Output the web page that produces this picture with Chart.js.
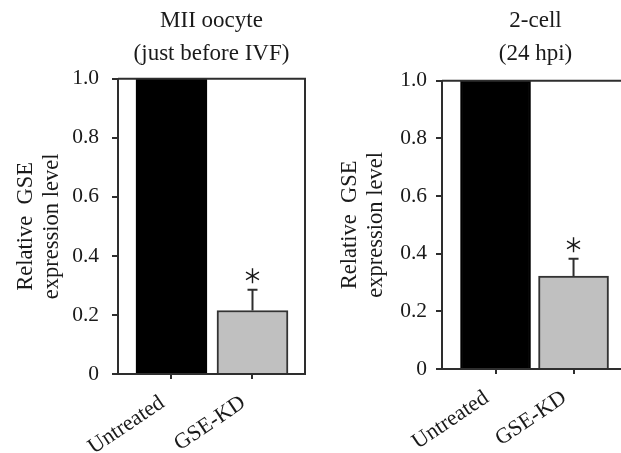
<!DOCTYPE html>
<html>
<head>
<meta charset="utf-8">
<script src="https://cdn.jsdelivr.net/npm/chart.js@4"></script>
<style>
html, body { margin: 0; padding: 0; background: #fff; overflow: hidden; width: 621px; height: 453px; }
#left { position: absolute; left: 0; top: 0; }
#right { position: absolute; left: 320px; top: 0; }
</style>
</head>
<body>
<canvas id="left" width="315" height="453"></canvas>
<canvas id="right" width="320" height="453"></canvas>
<script>
// DATA
const categories = ['Untreated', 'GSE-KD'];
const yTicks = [0, 0.2, 0.4, 0.6, 0.8, 1.0];
const yTickLabels = ['0', '0.2', '0.4', '0.6', '0.8', '1.0'];
const yTitle = ['Relative  GSE', 'expression level'];

const miiTitle = ['MII oocyte', '(just before IVF)'];
const miiMeans = [1.0, 0.215];
const miiErrors = [0, 0.07];
const miiStars = [false, true];

const cellTitle = ['2-cell', '(24 hpi)'];
const cellMeans = [1.0, 0.322];
const cellErrors = [0, 0.06];
const cellStars = [false, true];

const serif = "'Liberation Serif', 'Times New Roman', serif";
const ink = '#1a1a1a';
const lineCol = '#2e2e2e';

// MAKING THE CHARTS

function panel(id, title, means, errors, stars, lay) {
    const ctx = document.getElementById(id).getContext('2d');
    const points = means.map((m, i) => ({x: i + 1, y: m}));

    // frame, error bars and asterisks
    const extras = {
        id: 'extras',
        afterDatasetsDraw(chart) {
            const c = chart.ctx;
            const a = chart.chartArea;
            const ys = chart.scales.y;
            const bars = chart.getDatasetMeta(0).data;
            c.save();
            c.strokeStyle = lineCol;
            c.lineWidth = 2;
            c.beginPath();
            c.moveTo(a.left, a.top);
            c.lineTo(a.right, a.top);
            c.lineTo(a.right, a.bottom);
            c.stroke();
            bars.forEach((bar, i) => {
                if (!errors[i]) return;
                const y0 = ys.getPixelForValue(means[i]);
                const y1 = ys.getPixelForValue(means[i] + errors[i]);
                c.lineWidth = 2;
                c.beginPath();
                c.moveTo(bar.x, y0);
                c.lineTo(bar.x, y1);
                c.moveTo(bar.x - 5, y1);
                c.lineTo(bar.x + 5, y1);
                c.stroke();
                if (stars[i]) {
                    const cy = y1 - 14;
                    const r = 7.5;
                    c.lineWidth = 1.4;
                    c.strokeStyle = ink;
                    c.beginPath();
                    for (let k = 0; k < 3; k++) {
                        const ang = Math.PI / 2 + k * Math.PI / 3;
                        c.moveTo(bar.x + r * Math.cos(ang), cy + r * Math.sin(ang));
                        c.lineTo(bar.x - r * Math.cos(ang), cy - r * Math.sin(ang));
                    }
                    c.stroke();
                    c.strokeStyle = lineCol;
                }
            });
            c.restore();
        }
    };

    return new Chart(ctx, {
        type: 'bar',
        data: {
            datasets: [{
                data: points,
                backgroundColor: ['#000000', '#c0c0c0'],
                borderColor: ['#000000', '#333333'],
                borderWidth: 2,
                barThickness: lay.barW,
            }]
        },
        options: {
            responsive: false,
            animation: false,
            layout: {padding: {left: 0, right: lay.padRight, top: 0, bottom: 0}},
            plugins: {
                legend: {display: false},
                tooltip: {enabled: false},
                title: {
                    display: true,
                    text: title,
                    fullSize: false,
                    color: ink,
                    font: {family: serif, size: 23, weight: 'normal', lineHeight: 1.45},
                    padding: {top: lay.titleTop, bottom: lay.titleBottom},
                },
            },
            scales: {
                x: {
                    type: 'linear',
                    offset: false,
                    min: lay.xMin,
                    max: lay.xMax,
                    afterBuildTicks: s => { s.ticks = categories.map((c, i) => ({value: i + 1})); },
                    afterFit: s => { s.height = lay.xAxisH; },
                    ticks: {
                        callback: v => categories[v - 1],
                        minRotation: 34,
                        maxRotation: 34,
                        autoSkip: false,
                        color: ink,
                        font: {family: serif, size: 22},
                        padding: 11,
                        labelOffset: -9,
                    },
                    grid: {offset: false, drawOnChartArea: false, drawTicks: true, tickLength: 5, color: lineCol, lineWidth: 2},
                    border: {display: true, color: lineCol, width: 2},
                },
                y: {
                    min: 0,
                    max: 1,
                    afterBuildTicks: s => { s.ticks = yTicks.map(v => ({value: v})); },
                    afterFit: s => { s.width = lay.yAxisW; },
                    ticks: {
                        callback: (v, i) => yTickLabels[i],
                        color: ink,
                        font: {family: serif, size: 21.5},
                        padding: lay.yPad,
                    },
                    grid: {drawOnChartArea: false, drawTicks: true, tickLength: 6, color: lineCol, lineWidth: 2},
                    border: {display: true, color: lineCol, width: 2},
                    title: {
                        display: true,
                        text: yTitle,
                        color: ink,
                        font: {family: serif, size: 22.5, lineHeight: 1.17},
                        padding: {top: lay.yTitlePad, bottom: 0},
                    },
                },
            },
        },
        plugins: [extras],
    });
}

panel('left', miiTitle, miiMeans, miiErrors, miiStars, {
    xMin: 0.34, xMax: 2.648, barW: 71, padRight: 10,
    yAxisW: 118, xAxisH: 79, titleTop: 4, titleBottom: 8,
    yPad: 13, yTitlePad: 13,
});

panel('right', cellTitle, cellMeans, cellErrors, cellStars, {
    xMin: 0.314, xMax: 2.711, barW: 70, padRight: 11,
    yAxisW: 122, xAxisH: 84, titleTop: 4, titleBottom: 10,
    yPad: 9, yTitlePad: 17,
});
</script>
</body>
</html>
